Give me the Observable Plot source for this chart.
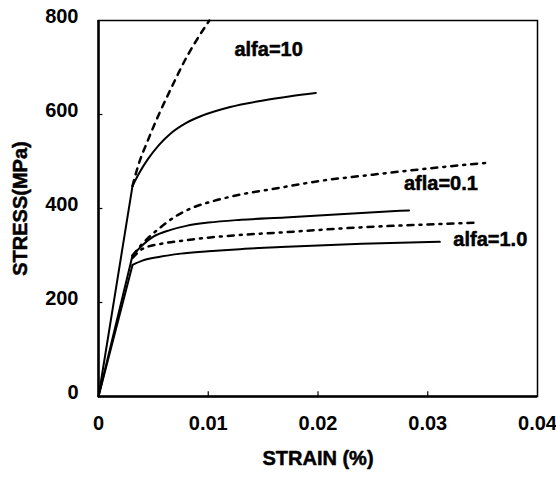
<!DOCTYPE html>
<html>
<head>
<meta charset="utf-8">
<script src="https://cdn.jsdelivr.net/npm/d3@7"></script>
<script src="https://cdn.jsdelivr.net/npm/@observablehq/plot@0.6"></script>
<style>
  html, body { margin: 0; padding: 0; background: #fff; }
  #chart svg text { font-family: "Liberation Sans", Arial, sans-serif; font-weight: bold; }
</style>
</head>
<body>
<div id="chart"></div>
<script>
// ---- data ----
const xTicks = [0, 0.01, 0.02, 0.03, 0.04];
const yTicks = [0, 200, 400, 600, 800];
const xTickLabels = ["0", "0.01", "0.02", "0.03", "0.04"];
const yTickLabels = ["0", "200", "400", "600", "800"];

// alfa = 10
const a10SolidStrain = [0, 0.0031, 0.0037, 0.0045, 0.0055, 0.0065, 0.008, 0.0095, 0.012, 0.015, 0.0175, 0.0198];
const a10SolidStress = [0, 448, 475, 505, 535, 558, 582, 598, 616, 630, 639, 646];
const a10DashStrain = [0.0031, 0.0036, 0.0045, 0.0055, 0.0066, 0.0081, 0.0092, 0.0101];
const a10DashStress = [448, 490, 545, 600, 655, 725, 768, 800];

// afla = 0.1
const a01SolidStrain = [0, 0.0031, 0.004, 0.005, 0.0065, 0.008, 0.01, 0.013, 0.017, 0.022, 0.0283];
const a01SolidStress = [0, 300, 322, 340, 354, 363, 370, 376, 381, 388, 396];
const a01DashStrain = [0.0031, 0.004, 0.0055, 0.007, 0.0085, 0.0105, 0.013, 0.016, 0.02, 0.025, 0.03, 0.0353];
const a01DashStress = [300, 325, 357, 383, 401, 416, 430, 442, 458, 472, 485, 497];

// alfa = 1.0
const a1SolidStrain = [0, 0.0031, 0.004, 0.0055, 0.0075, 0.01, 0.0125, 0.0166, 0.024, 0.0311];
const a1SolidStress = [0, 280, 289, 297, 304, 309, 313, 318, 325, 329];
const a1DashStrain = [0.0031, 0.004, 0.0055, 0.0075, 0.01, 0.0125, 0.0166, 0.024, 0.03, 0.0344];
const a1DashStress = [295, 314, 324, 331, 338, 343, 349, 360, 366, 370];

// curve labels
const labelText = ["alfa=10", "afla=0.1", "alfa=1.0"];
const labelStrain = [0.0155, 0.0312, 0.0357];
const labelStress = [738, 453, 334];

const xTitle = "STRAIN (%)";
const yTitle = "STRESS(MPa)";

// ---- build tables ----
const toRows = (xs, ys) => xs.map((x, i) => ({strain: x, stress: ys[i]}));
const a10Solid = toRows(a10SolidStrain, a10SolidStress);
const a10Dash = toRows(a10DashStrain, a10DashStress);
const a01Solid = toRows(a01SolidStrain, a01SolidStress);
const a01Dash = toRows(a01DashStrain, a01DashStress);
const a1Solid = toRows(a1SolidStrain, a1SolidStress);
const a1Dash = toRows(a1DashStrain, a1DashStress);
const labels = labelText.map((t, i) => ({text: t, strain: labelStrain[i], stress: labelStress[i]}));

const solid = {x: "strain", y: "stress", stroke: "black", strokeWidth: 2, curve: "monotone-x"};
const elastic = {x: "strain", y: "stress", stroke: "black", strokeWidth: 2, curve: "linear"};
const font = {fontSize: 20, fontWeight: "bold", fill: "black", stroke: "black", strokeWidth: 0.5};

// a solid curve: straight elastic segment then smooth hardening part
const solidCurve = rows => [
  Plot.line(rows.slice(0, 2), elastic),
  Plot.line(rows.slice(1), solid)
];

const chart = Plot.plot({
  width: 556,
  height: 477,
  marginTop: 20,
  marginRight: 19,
  marginBottom: 81,
  marginLeft: 98,
  style: {background: "white", color: "black", fontFamily: "Liberation Sans, Arial, sans-serif"},
  x: {domain: [0, 0.04]},
  y: {domain: [0, 800]},
  marks: [
    Plot.frame({stroke: "black", strokeWidth: 1.5}),
    Plot.ruleX([0], {stroke: "black", strokeWidth: 2.5}),
    Plot.ruleY([0], {stroke: "black", strokeWidth: 2.5}),
    // small inward ticks
    Plot.ruleX(xTicks.slice(1, 4), {y1: 0, y2: 10, stroke: "black", strokeWidth: 1.2}),
    Plot.ruleY(yTicks.slice(1, 4), {x1: 0, x2: 0.0004, stroke: "black", strokeWidth: 1.2}),
    Plot.axisX(xTicks, {tickSize: 0, tickPadding: 19, tickFormat: (d, i) => xTickLabels[i], fontSize: 20, fontWeight: "bold", stroke: "black", strokeWidth: 0.5, label: null}),
    Plot.axisY(yTicks, {tickSize: 0, tickPadding: 20, dy: -4, tickFormat: (d, i) => yTickLabels[i], fontSize: 20, fontWeight: "bold", stroke: "black", strokeWidth: 0.5, label: null}),
    ...solidCurve(a10Solid),
    Plot.line(a10Dash, {...solid, strokeWidth: 2.5, strokeDasharray: "6,6"}),
    ...solidCurve(a01Solid),
    Plot.line(a01Dash, {...solid, strokeWidth: 2.5, strokeDasharray: "6,6,2,6"}),
    ...solidCurve(a1Solid),
    Plot.line(a1Dash, {...solid, strokeWidth: 2.5, strokeDasharray: "6,6,2,6"}),
    Plot.text(labels, {x: "strain", y: "stress", text: "text", ...font}),
    Plot.text([xTitle], {frameAnchor: "bottom", dy: 68, text: d => d, ...font}),
    Plot.text([yTitle], {frameAnchor: "left", textAnchor: "middle", dx: -78, rotate: -90, text: d => d, ...font})
  ]
});
document.getElementById("chart").appendChild(chart);
</script>
</body>
</html>
